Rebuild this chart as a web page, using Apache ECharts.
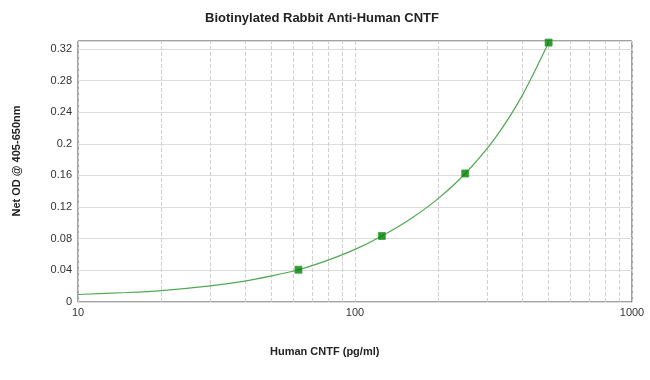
<!DOCTYPE html>
<html>
<head>
<meta charset="utf-8">
<script src="https://cdn.jsdelivr.net/npm/echarts@6/dist/echarts.min.js"></script>
<style>html,body{margin:0;padding:0;background:#fff}#c{width:650px;height:380px}</style>
</head>
<body>
<div id="c"></div>
<script>
// Data
const curveX = [10, 15, 20, 30, 40, 50, 62.5, 80, 100, 125, 160, 200, 250, 320, 400, 500];
const curveY = [0.0095, 0.012, 0.0145, 0.0205, 0.0265, 0.033, 0.0408, 0.053, 0.0665, 0.0835, 0.106, 0.131, 0.1625, 0.207, 0.26, 0.328];
const pointsX = [62.5, 125, 250, 500];
const pointsY = [0.0408, 0.0835, 0.1625, 0.328];
const minorGridX = [20, 30, 40, 50, 60, 70, 80, 90, 200, 300, 400, 500, 600, 700, 800, 900];

const font = '"Liberation Sans", Arial, sans-serif';
const chart = echarts.init(document.getElementById('c'), null, {renderer: 'canvas'});
chart.setOption({
  animation: false,
  backgroundColor: '#fff',
  graphic: [
    {type: 'text', left: 205, top: 12,
     style: {text: 'Biotinylated Rabbit Anti-Human CNTF', font: 'bold 13px "Liberation Sans", Arial, sans-serif', fill: '#222'}},
    {type: 'text', left: 270, top: 346,
     style: {text: 'Human CNTF (pg/ml)', font: 'bold 11px "Liberation Sans", Arial, sans-serif', fill: '#222'}},
    {type: 'text', x: 17, y: 161, rotation: Math.PI / 2,
     style: {text: 'Net OD @ 405-650nm', font: 'bold 11px "Liberation Sans", Arial, sans-serif', fill: '#222', align: 'center', verticalAlign: 'middle'}}
  ],
  grid: {left: 78, right: 18, top: 41, bottom: 78, show: true, borderColor: '#444', borderWidth: 1, backgroundColor: 'transparent'},
  xAxis: {
    type: 'log', min: 10, max: 1000, logBase: 10,
    axisLine: {show: false}, axisTick: {show: false},
    axisLabel: {fontFamily: font, fontSize: 11, color: '#333', margin: 5, formatter: v => String(v)},
    splitLine: {show: true, lineStyle: {color: '#d0d0d0', type: 'dashed', width: 1}}
  },
  yAxis: {
    type: 'value', min: 0, max: 0.33, interval: 0.04,
    axisLine: {show: false}, axisTick: {show: false},
    axisLabel: {fontFamily: font, fontSize: 11, color: '#333', margin: 6, showMaxLabel: false,
      formatter: v => String(Math.round(v * 100) / 100)},
    splitLine: {show: true, lineStyle: {color: '#dcdcdc', width: 1}}
  },
  series: [
    {
      type: 'line', data: curveX.map((x, i) => [x, curveY[i]]),
      smooth: 0.3, showSymbol: false, symbol: 'none',
      lineStyle: {color: '#52a852', width: 1.2}, z: 3,
      markLine: {
        silent: true, symbol: 'none', label: {show: false},
        lineStyle: {color: '#d0d0d0', type: 'dashed', width: 1},
        data: minorGridX.map(v => ({xAxis: v})), z: 1
      }
    },
    {
      type: 'scatter', data: pointsX.map((x, i) => [x, pointsY[i]]),
      symbol: 'rect', symbolSize: 7,
      itemStyle: {color: '#008000', borderColor: '#3aa03a', borderWidth: 1}, z: 4
    }
  ]
});
</script>
</body>
</html>
